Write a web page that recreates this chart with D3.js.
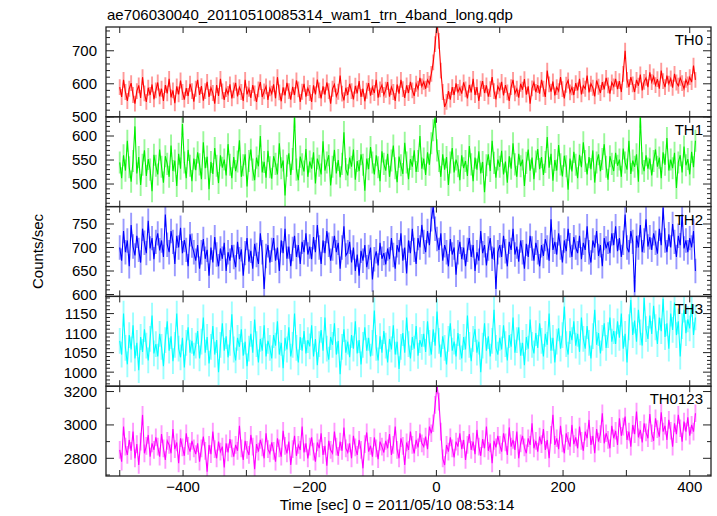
<!DOCTYPE html>
<html>
<head>
<meta charset="utf-8">
<script src="https://cdn.jsdelivr.net/npm/d3@7"></script>
<style>
html,body{margin:0;padding:0;background:#fff;}
svg{display:block;font-family:"Liberation Sans",Arial,Helvetica,sans-serif;}
</style>
</head>
<body>
<svg id="chart" width="717" height="516"></svg>
<script>
// ---------------- data ----------------
const title = "ae706030040_20110510085314_wam1_trn_4band_long.qdp";
const xLabel = "Time [sec] 0 = 2011/05/10 08:53:14";
const yLabel = "Counts/sec";
const seriesNames = ["TH0", "TH1", "TH2", "TH3", "TH0123"];
const seriesColors = ["#ff0000", "#00ee00", "#0000ff", "#00ffff", "#ff00ff"];
const tStart = -500, binSec = 3;
const xTicks = [-500, -400, -300, -200, -100, 0, 100, 200, 300, 400];
const xTickLabels = [-400, -200, 0, 200, 400];
const yDomains = [[500, 772], [453, 640], [596, 787], [964, 1194], [2694, 3232]];
const yTickLabels = [[500, 600, 700], [500, 550, 600], [600, 650, 700, 750], [1000, 1050, 1100, 1150], [2800, 3000, 3200]];
const yMinorStep = [20, 10, 10, 10, 100];
const errors = [24, 23, 26, 33, 53];

const th0 = [
590,560,612,575,548,585,602,566,540,578,595,557,620,571,545,588,566,598,553,580,
604,562,585,548,596,571,615,559,580,541,592,568,610,575,552,587,563,600,578,546,
585,612,566,593,549,578,606,560,588,572,540,596,563,615,577,551,584,569,598,556,
580,603,562,590,575,548,612,568,585,557,596,571,545,583,605,560,577,592,551,586,
570,598,556,620,574,547,589,565,603,578,552,591,566,610,583,545,576,600,561,587,
572,545,595,568,613,580,556,592,567,604,578,540,585,598,562,576,625,570,550,588,
566,600,578,553,594,571,608,560,585,547,579,602,564,590,572,612,558,583,596,566,
582,605,561,590,575,548,598,570,612,584,557,595,572,606,580,563,600,585,618,592,
606,585,612,600,630,665,720,785,730,640,575,530,545,578,552,590,566,601,575,588,
570,604,583,556,597,574,615,566,590,548,585,608,572,595,561,584,620,578,553,592,
580,606,565,596,574,548,590,612,571,585,558,600,582,614,567,592,540,586,604,575,
596,570,612,585,560,640,598,576,607,565,590,578,620,584,556,597,610,574,589,566,
602,580,615,568,594,585,625,574,600,588,562,610,591,572,605,583,618,595,570,604,
592,615,584,608,575,630,700,612,590,620,598,575,612,594,628,580,606,618,590,635,
605,622,596,614,585,640,608,590,625,600,616,588,630,604,594,618,602,585,612,598,
620,605,655,612];

const th1 = [
545,512,560,528,590,535,505,548,620,522,556,498,540,570,517,552,530,485,561,538,
520,572,536,503,558,542,515,580,527,549,496,563,532,625,545,512,571,538,506,553,
529,566,541,510,587,533,557,489,546,521,575,538,502,560,534,551,518,583,540,512,
556,527,547,591,515,539,562,495,548,572,530,508,555,537,600,524,546,513,569,535,
511,558,542,520,585,533,549,476,538,564,519,552,640,530,508,557,541,526,573,515,
547,532,566,501,553,538,520,589,528,545,560,497,536,571,522,550,514,542,608,531,
518,555,536,572,509,548,527,562,540,486,553,531,577,545,520,560,535,506,568,542,
528,563,515,549,580,533,504,557,539,521,586,545,510,552,536,570,525,548,600,532,
553,519,566,540,585,612,640,570,548,515,562,530,556,498,545,575,524,551,537,508,
560,533,548,517,579,541,506,555,530,568,522,546,483,539,562,527,590,544,513,551,
536,569,520,547,503,558,532,585,541,515,563,537,551,496,544,572,528,555,510,547,
573,531,556,519,546,598,534,563,507,550,528,581,541,516,559,537,488,553,526,567,
540,512,561,535,587,548,520,556,531,570,503,545,562,527,552,583,536,509,558,542,
527,565,538,551,515,574,545,530,590,521,549,536,562,505,640,543,527,560,532,553,
518,548,572,536,555,512,566,540,596,528,551,533,565,492,545,560,524,578,539,552,
520,567,535,590];

const th2 = [
700,672,735,690,715,660,748,702,683,725,695,668,740,710,688,757,698,720,675,712,
730,694,715,680,770,706,690,735,712,665,725,700,742,688,716,695,660,728,704,690,
672,705,655,690,718,676,695,640,700,668,722,685,660,698,676,710,650,690,672,705,
680,658,712,675,696,640,688,720,670,693,655,708,684,665,730,690,612,682,705,668,
695,720,672,700,650,715,688,740,676,702,660,697,725,680,705,665,712,690,730,685,
702,675,722,690,748,700,665,715,688,735,706,672,698,725,690,710,655,700,745,683,
690,712,668,700,650,685,640,693,672,705,658,680,700,632,675,692,662,710,676,688,
664,698,675,720,684,655,705,690,730,672,700,645,715,688,740,695,665,720,700,748,
712,690,735,705,760,787,740,718,695,730,672,705,690,660,718,685,700,642,690,712,
675,700,660,695,720,680,705,650,690,672,735,688,705,662,698,720,676,700,612,690,
705,680,725,692,660,712,695,740,685,702,670,715,690,655,708,680,725,698,672,710,
690,660,705,682,718,700,672,760,695,712,685,730,700,668,715,692,740,705,680,722,
700,688,725,675,710,695,745,690,668,715,700,735,682,705,660,720,698,712,688,730,
705,745,692,720,680,710,770,700,690,735,712,605,725,700,748,690,715,760,702,722,
695,730,710,687,740,705,785,715,690,728,700,750,712,680,725,705,770,698,715,690,
720,700,735,650];

const th3 = [
1080,1045,1150,1062,1020,1095,1058,1120,1035,1075,1005,1090,1052,1110,1068,1030,1085,1145,1048,1072,
1040,1098,1065,1015,1082,1130,1055,1092,1028,1070,1150,1060,1038,1088,1012,1075,1115,1050,1080,1042,
1068,1105,1035,1078,1140,1050,1090,1022,1065,1118,1045,1082,1000,1070,1125,1055,1092,1038,1075,1148,
1058,1030,1088,1065,1110,1042,1078,1015,1060,1098,1050,1135,1072,1025,1085,1055,1120,1040,1080,1062,
1035,1095,1068,1130,1045,1075,1010,1088,1058,1115,1040,1070,1150,1062,1025,1090,1055,1105,1048,1082,
1066,1120,1040,1085,1018,1072,1108,1055,1140,1060,1032,1090,1070,1125,1045,1080,995,1065,1110,1050,
1078,1038,1095,1060,1130,1048,1082,1020,1070,1115,1055,1088,1040,1075,1158,1062,1030,1092,1050,1105,
1068,1025,1085,1058,1120,1045,1078,1008,1065,1100,1050,1140,1072,1035,1090,1060,1118,1042,1082,1065,
1098,1052,1130,1075,1045,1110,1068,1155,1080,1038,1092,1062,1020,1085,1125,1055,1078,1040,1100,1065,
1035,1090,1058,1145,1070,1028,1085,1110,1050,1078,1000,1068,1125,1055,1092,1040,1080,1160,1062,1045,
1088,1058,1120,1072,1030,1095,1065,1140,1050,1082,1115,1042,1075,1018,1090,1060,1135,1070,1048,1100,
1062,1125,1080,1040,1098,1070,1150,1055,1088,1025,1078,1112,1060,1095,1168,1072,1045,1105,1082,1130,
1068,1098,1052,1140,1085,1060,1118,1075,1035,1092,1160,1070,1100,1048,1088,1125,1062,1095,1140,1078,
1105,1072,1130,1088,1150,1060,1098,1025,1115,1185,1095,1132,1078,1160,1102,1068,1190,1110,1085,1145,
1098,1170,1115,1072,1140,1105,1188,1090,1125,1060,1150,1108,1178,1095,1130,1040,1118,1160,1100,1135,
1112,1175,1095,1140];

const th0123 = [
2850,2780,2990,2870,2820,2910,2845,2960,2800,2885,2760,2900,3060,2830,2875,2940,2810,2890,2850,2925,
2870,2810,2945,2860,2790,2905,2880,2830,2975,2855,2895,2770,2920,2865,2815,2950,2875,2840,2905,2860,
2825,2890,2780,2860,2930,2845,2720,2880,2825,2960,2855,2800,2900,2840,2870,2745,2890,2835,2915,2860,
2810,2880,2845,2995,2860,2790,2905,2850,2820,2940,2870,2735,2885,2840,2910,2865,2800,2950,2855,2830,
2895,2845,2780,2920,2860,2810,2965,2875,2830,2900,2760,2855,2935,2815,2880,2850,2990,2835,2890,2800,
2870,2925,2840,2780,2895,2860,2950,2820,2875,2755,2905,2850,2830,2960,2870,2815,2900,2845,2985,2860,
2835,2890,2800,2935,2865,2820,2910,2850,2740,2885,2955,2840,2875,2810,2925,2860,2795,2900,2870,2835,
2905,2860,2945,2820,2880,2990,2850,2800,2920,2875,2760,2895,2850,2960,2880,2830,2910,2865,2950,2890,
2870,2930,2855,2990,2950,3010,3120,3240,3140,2960,2800,2760,2880,2840,2925,2860,2805,2900,2870,2950,
2855,2910,2790,2880,2945,2850,2900,2825,2970,2870,2815,2915,2860,2990,2845,2890,2770,2905,2865,2935,
2880,2840,2950,2895,2820,2985,2870,2910,2850,2960,2800,2890,2935,2865,2830,2920,2880,3010,2860,2905,
2840,2930,2885,2975,2850,2910,2800,2940,3060,2880,2920,2855,2995,2890,2830,2950,2905,2870,3000,2885,
2925,2860,2990,2905,2845,2960,2920,3030,2880,2935,2830,2975,2900,2945,3070,2890,2950,2910,2860,2995,
2920,2965,2880,3040,2935,2990,3050,2910,2960,2870,3000,2945,3080,2925,2970,2895,3010,2955,2920,3065,
2950,2905,3040,2975,2930,3075,2960,2995,2910,3030,2965,2870,3010,2945,3060,2980,2900,3020,2960,3045,
2935,3000,2960,3070];

const seriesValues = [th0, th1, th2, th3, th0123];

// ---------------- layout ----------------
const W = 717, H = 516;
const mLeft = 106, mRight = 711, mTop = 27, mBottom = 476;
const nP = seriesValues.length;
const pH = (mBottom - mTop) / nP;
const fontSize = 15;

const svg = d3.select("#chart");
svg.append("rect").attr("width", W).attr("height", H).attr("fill", "#fff");

const x = d3.scaleLinear().domain([-521.7, 433.6]).range([mLeft, mRight]);
const binPx = x(binSec) - x(0);

svg.append("text").attr("x", mLeft + 1).attr("y", 20)
  .attr("font-size", fontSize).attr("fill", "#000").text(title);

seriesValues.forEach((vals, k) => {
  const y0 = mTop + k * pH, y1 = y0 + pH;
  const y = d3.scaleLinear().domain(yDomains[k]).range([y1, y0]);
  const color = seriesColors[k];
  const g = svg.append("g");
  const clipId = "clip" + k;
  svg.append("clipPath").attr("id", clipId).append("rect")
    .attr("x", mLeft).attr("y", y0).attr("width", mRight - mLeft).attr("height", pH);

  const data = vals.map((v, i) => ({ t: tStart + i * binSec, v: v }));
  const plot = g.append("g").attr("clip-path", `url(#${clipId})`);
  // error bars
  plot.append("g").selectAll("line").data(data).join("line")
    .attr("x1", d => x(d.t)).attr("x2", d => x(d.t))
    .attr("y1", d => y(d.v - errors[k])).attr("y2", d => y(d.v + errors[k]))
    .attr("stroke", color).attr("stroke-opacity", 0.4).attr("stroke-width", binPx);
  // data line
  plot.append("path").datum(data)
    .attr("d", d3.line().x(d => x(d.t)).y(d => y(d.v)))
    .attr("fill", "none").attr("stroke", color).attr("stroke-width", 1.1);

  // frame
  g.append("rect").attr("x", mLeft).attr("y", y0).attr("width", mRight - mLeft).attr("height", pH)
    .attr("fill", "none").attr("stroke", "#222").attr("stroke-width", 1.3);

  // y ticks
  const [lo, hi] = yDomains[k];
  const minor = d3.range(Math.ceil(lo / yMinorStep[k]) * yMinorStep[k], hi + 0.001, yMinorStep[k]);
  const majors = yTickLabels[k];
  const tk = g.append("g").attr("stroke", "#222").attr("stroke-width", 1);
  minor.forEach(v => {
    const isMajor = majors.includes(v);
    const len = isMajor ? 8 : 4;
    const yy = y(v);
    tk.append("line").attr("x1", mLeft).attr("x2", mLeft + len).attr("y1", yy).attr("y2", yy);
    tk.append("line").attr("x1", mRight).attr("x2", mRight - len).attr("y1", yy).attr("y2", yy);
  });
  majors.forEach(v => {
    g.append("text").attr("x", mLeft - 9).attr("y", y(v)).attr("dy", "0.36em")
      .attr("text-anchor", "end").attr("font-size", fontSize).attr("fill", "#000").text(v);
  });
  // x ticks (top & bottom of each panel)
  xTicks.forEach(t => {
    const xx = x(t);
    tk.append("line").attr("x1", xx).attr("x2", xx).attr("y1", y0).attr("y2", y0 + 6);
    tk.append("line").attr("x1", xx).attr("x2", xx).attr("y1", y1).attr("y2", y1 - 6);
  });
  // panel label
  g.append("text").attr("x", mRight - 8).attr("y", y0 + 18)
    .attr("text-anchor", "end").attr("font-size", fontSize).attr("fill", "#000").text(seriesNames[k]);
});

// x tick labels
xTickLabels.forEach(t => {
  svg.append("text").attr("x", x(t)).attr("y", mBottom + 16)
    .attr("text-anchor", "middle").attr("font-size", fontSize).attr("fill", "#000")
    .text(t < 0 ? "\u2212" + Math.abs(t) : String(t));
});
svg.append("text").attr("x", 397).attr("y", 510)
  .attr("text-anchor", "middle").attr("font-size", fontSize).attr("fill", "#000").text(xLabel);
svg.append("text").attr("transform", `translate(43,${(mTop + mBottom) / 2}) rotate(-90)`)
  .attr("text-anchor", "middle").attr("font-size", fontSize).attr("fill", "#000").text(yLabel);
</script>
</body>
</html>
